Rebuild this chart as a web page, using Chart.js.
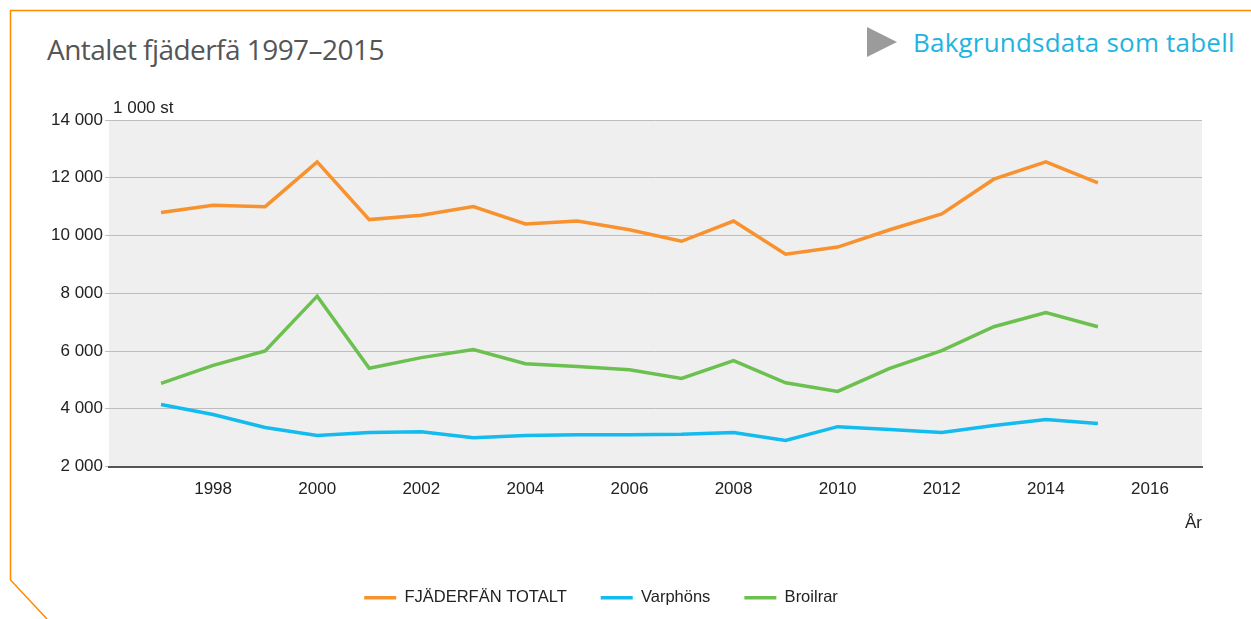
<!DOCTYPE html>
<html>
<head>
<meta charset="utf-8">
<script src="https://cdn.jsdelivr.net/npm/chart.js@4/dist/chart.umd.min.js"></script>
<style>
  body { margin: 0; background: #fff; width: 1251px; height: 619px; overflow: hidden; position: relative; }
  #frame { position: absolute; left: 0; top: 0; }
  #title { position: absolute; left: 47px; top: 30px; font-family: "Open Sans", sans-serif; font-size: 28px; color: #555; letter-spacing: -0.55px; }
  #link { position: absolute; left: 913px; top: 24px; font-family: "Open Sans", sans-serif; font-size: 26px; color: #1fb4e0; letter-spacing: 0.2px; }
  #chartWrap { position: absolute; left: 0; top: 0; width: 1251px; height: 619px; }
</style>
</head>
<body>
<svg id="frame" width="1251" height="619">
  <polyline points="1251,10.5 10.5,10.5 10.5,580 47,619" fill="none" stroke="#ff8a00" stroke-width="1.5"/>
  <polygon points="867,27 897,42 867,57" fill="#9b9b9b"/>
</svg>
<div id="title">Antalet fjäderfä 1997–2015</div>
<div id="link">Bakgrundsdata som tabell</div>
<div id="chartWrap"><canvas id="myChart" width="1251" height="619"></canvas></div>
<script>
// years on the x axis
const years = [1997, 1998, 1999, 2000, 2001, 2002, 2003, 2004, 2005, 2006,
  2007, 2008, 2009, 2010, 2011, 2012, 2013, 2014, 2015];

// 1 000 st
const totalt = [10800, 11050, 11000, 12550, 10550, 10700, 11000, 10400, 10500, 10200,
  9800, 10500, 9350, 9600, 10200, 10750, 11950, 12550, 11820];
const varphons = [4150, 3800, 3350, 3070, 3180, 3200, 3000, 3070, 3100, 3100,
  3120, 3180, 2900, 3380, 3280, 3180, 3420, 3630, 3490];
const broilrar = [4880, 5500, 6000, 7900, 5400, 5770, 6050, 5560, 5460, 5350,
  5050, 5670, 4900, 4600, 5400, 6010, 6840, 7330, 6840];

const xTicks = [1998, 2000, 2002, 2004, 2006, 2008, 2010, 2012, 2014, 2016];
const yTicks = [2000, 4000, 6000, 8000, 10000, 12000, 14000];

const labelFont = { family: "'Liberation Sans', Arial, sans-serif", size: 17 };

function points(values) {
  return years.map((y, i) => ({ x: y, y: values[i] }));
}

function formatThousands(v) {
  return String(v).replace(/\B(?=(\d{3})+(?!\d))/g, " ");
}

const plotBackground = {
  id: "plotBackground",
  beforeDraw(chart) {
    const { ctx, chartArea } = chart;
    ctx.save();
    ctx.fillStyle = "#efefef";
    ctx.fillRect(chartArea.left, chartArea.top, chartArea.right - chartArea.left, chartArea.bottom - chartArea.top);
    ctx.restore();
  },
  afterDraw(chart) {
    const { ctx, chartArea } = chart;
    ctx.save();
    ctx.font = "17px 'Liberation Sans', Arial, sans-serif";
    ctx.fillStyle = "#222";
    ctx.textBaseline = "middle";
    ctx.textAlign = "left";
    ctx.fillText("1 000 st", chartArea.left + 4, chartArea.top - 12);
    ctx.restore();
  },
};

new Chart(document.getElementById("myChart"), {
  type: "line",
  data: {
    datasets: [
      { label: "FJÄDERFÄN TOTALT", data: points(totalt), borderColor: "#f7922f", backgroundColor: "#f7922f", borderWidth: 3.5 },
      { label: "Varphöns", data: points(varphons), borderColor: "#13bbee", backgroundColor: "#13bbee", borderWidth: 3.5 },
      { label: "Broilrar", data: points(broilrar), borderColor: "#6cc04f", backgroundColor: "#6cc04f", borderWidth: 3.5 },
    ],
  },
  options: {
    responsive: false,
    animation: false,
    layout: { padding: { left: 0, top: 120, right: 49, bottom: 3 } },
    elements: {
      line: { tension: 0 },
      point: { radius: 0 },
    },
    plugins: {
      tooltip: { enabled: false },
      legend: {
        position: "bottom",
        labels: {
          usePointStyle: true,
          pointStyle: "line",
          pointStyleWidth: 32,
          padding: 34,
          color: "#222",
          font: { family: "'Liberation Sans', Arial, sans-serif", size: 16.5 },
        },
      },
    },
    scales: {
      x: {
        type: "linear",
        min: 1996,
        max: 2017,
        afterBuildTicks(scale) {
          scale.ticks = xTicks.map((v) => ({ value: v }));
        },
        afterFit(scale) {
          scale.height = 89;
        },
        grid: { display: false },
        border: { display: true, color: "#555", width: 2 },
        ticks: {
          padding: 5,
          color: "#222",
          font: labelFont,
          maxRotation: 0,
          callback: (v) => String(v),
        },
        title: {
          display: true,
          text: "År",
          align: "end",
          color: "#222",
          font: labelFont,
          padding: { top: 0, bottom: 22 },
        },
      },
      y: {
        min: 2000,
        max: 14000,
        afterBuildTicks(scale) {
          scale.ticks = yTicks.map((v) => ({ value: v }));
        },
        afterFit(scale) {
          scale.width = 109;
        },
        grid: { color: "#bdbdbd", lineWidth: 1, tickLength: 4 },
        border: { display: false },
        ticks: {
          padding: 2,
          color: "#222",
          font: labelFont,
          callback: (v) => formatThousands(v),
        },
      },
    },
  },
  plugins: [plotBackground],
});
</script>
</body>
</html>
